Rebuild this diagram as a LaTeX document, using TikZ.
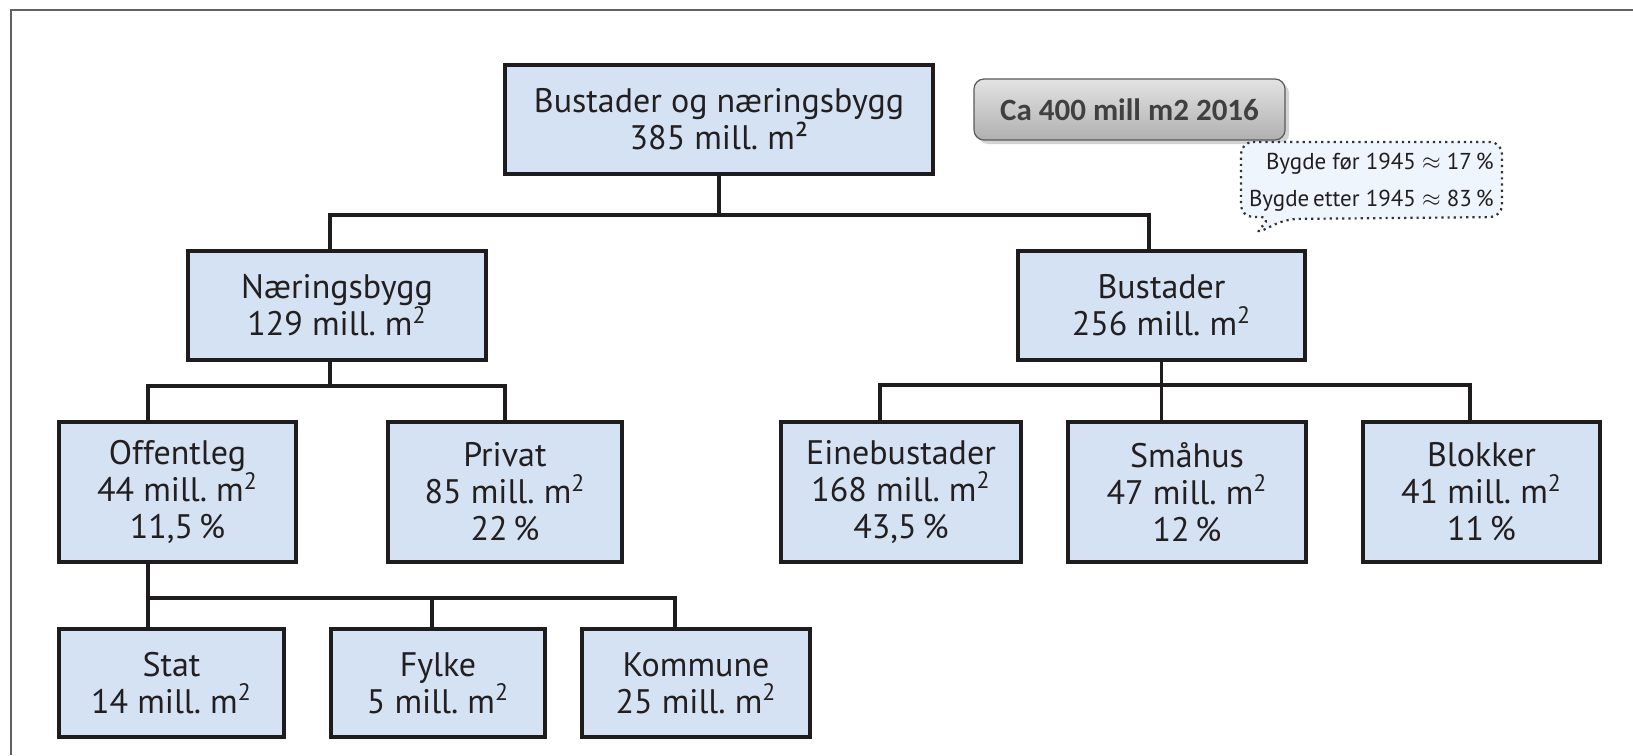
\documentclass[tikz,border=0pt]{standalone}
\usepackage{fontspec}
\setmainfont{PT Sans}
\newfontfamily\calfont{Carlito}
\usetikzlibrary{shadows}
\definecolor{boksblaa}{RGB}{212,226,243}
\definecolor{strek}{RGB}{30,28,29}
\definecolor{tekst}{RGB}{35,31,32}
\definecolor{boblefarge}{RGB}{238,245,252}

\begin{document}
\begin{tikzpicture}[x=0.5pt,y=-0.5pt,
  boks/.style={draw=strek,line width=2pt,fill=boksblaa,inner sep=0pt,
    align=center,text=tekst,font=\fontsize{17}{18.5}\selectfont},
  linje/.style={draw=strek,line width=1.7pt}]
\useasboundingbox (0,0) rectangle (1633,755);
\draw[gray!75!black,line width=1pt] (11,755) -- (11,10) -- (1633,10);

\def\m{mill.\ m\textsuperscript{2}}

\node[boks,minimum width=214pt,minimum height=54.5pt] (topp) at (719,119.5)
  {Bustader og næringsbygg\\385 mill.\ m²};

\node[boks,minimum width=149pt,minimum height=54.5pt] (naering) at (337,305.5)
  {Næringsbygg\\129 \m};
\node[boks,minimum width=143.5pt,minimum height=54.5pt] (bustad) at (1161.5,305.5)
  {Bustader\\256 \m};

\node[boks,minimum width=118.5pt,minimum height=70pt] (offentleg) at (177.5,492)
  {Offentleg\\44 \m\\11,5\,\%};
\node[boks,minimum width=117pt,minimum height=70pt] (privat) at (505,492)
  {Privat\\85 \m\\22\,\%};
\node[boks,minimum width=120pt,minimum height=70pt] (eine) at (901,492)
  {Einebustader\\168 \m\\43,5\,\%};
\node[boks,minimum width=119pt,minimum height=70pt] (smahus) at (1187,492)
  {Småhus\\47 \m\\12\,\%};
\node[boks,minimum width=118.5pt,minimum height=70pt] (blokker) at (1481.5,492)
  {Blokker\\41 \m\\11\,\%};

\node[boks,minimum width=112.5pt,minimum height=54pt] (stat) at (171.5,683)
  {Stat\\14 \m};
\node[boks,minimum width=107pt,minimum height=54pt] (fylke) at (438,683)
  {Fylke\\5 \m};
\node[boks,minimum width=114pt,minimum height=54pt] (kommune) at (696,683)
  {Kommune\\25 \m};

\coordinate (s1) at (330,215);
\coordinate (s2) at (1149,215);
\coordinate (o1) at (148,386);
\coordinate (e1) at (880,385);
\coordinate (e2) at (1470,385);
\coordinate (f1) at (148,598);
\coordinate (f2) at (432,598);
\coordinate (f3) at (675,598);

\draw[linje] (topp.south) -- (topp.south |- s1);
\draw[linje] (naering.north -| s1) -- (s1) -- (s2) -- (bustad.north -| s2);
\draw[linje] (naering.south -| s1) -- (s1 |- o1);
\draw[linje] (offentleg.north -| o1) -- (o1) -- (o1 -| privat.north) -- (privat.north);
\draw[linje] (bustad.south) -- (smahus.north -| bustad.south);
\draw[linje] (eine.north -| e1) -- (e1) -- (e2) -- (blokker.north -| e2);
\draw[linje] (offentleg.south -| f1) -- (stat.north -| f1);
\draw[linje] (f1) -- (f3) -- (kommune.north -| f3);
\draw[linje] (f2) -- (fylke.north -| f2);

\node[draw=gray!70!black,line width=.6pt,rounded corners=5pt,
  top color=gray!22,bottom color=gray!62,inner sep=0pt,
  minimum width=155.5pt,minimum height=30.5pt,text=black!75,
  font=\calfont\bfseries\fontsize{15.5}{18}\selectfont,
  drop shadow={shadow xshift=2pt,shadow yshift=-2pt,opacity=.35}]
  (ca) at (1129.5,109.5) {Ca 400 mill m2 2016};

\draw[dotted,line width=1.1pt,draw=black!80,fill=boblefarge,rounded corners=6pt]
  (1241,142) -- (1502,142) -- (1502,217) -- (1286,219) -- (1253,235)
  -- (1272,217) -- (1241,217) -- cycle;
\node[anchor=east,align=right,inner sep=0pt,text=tekst,
  font=\fontsize{11.5}{18.5}\selectfont] (bygd) at (1494,182)
  {Bygde før 1945 $\approx$ 17\,\%\\Bygde\,etter 1945 $\approx$ 83\,\%};
\end{tikzpicture}
\end{document}
